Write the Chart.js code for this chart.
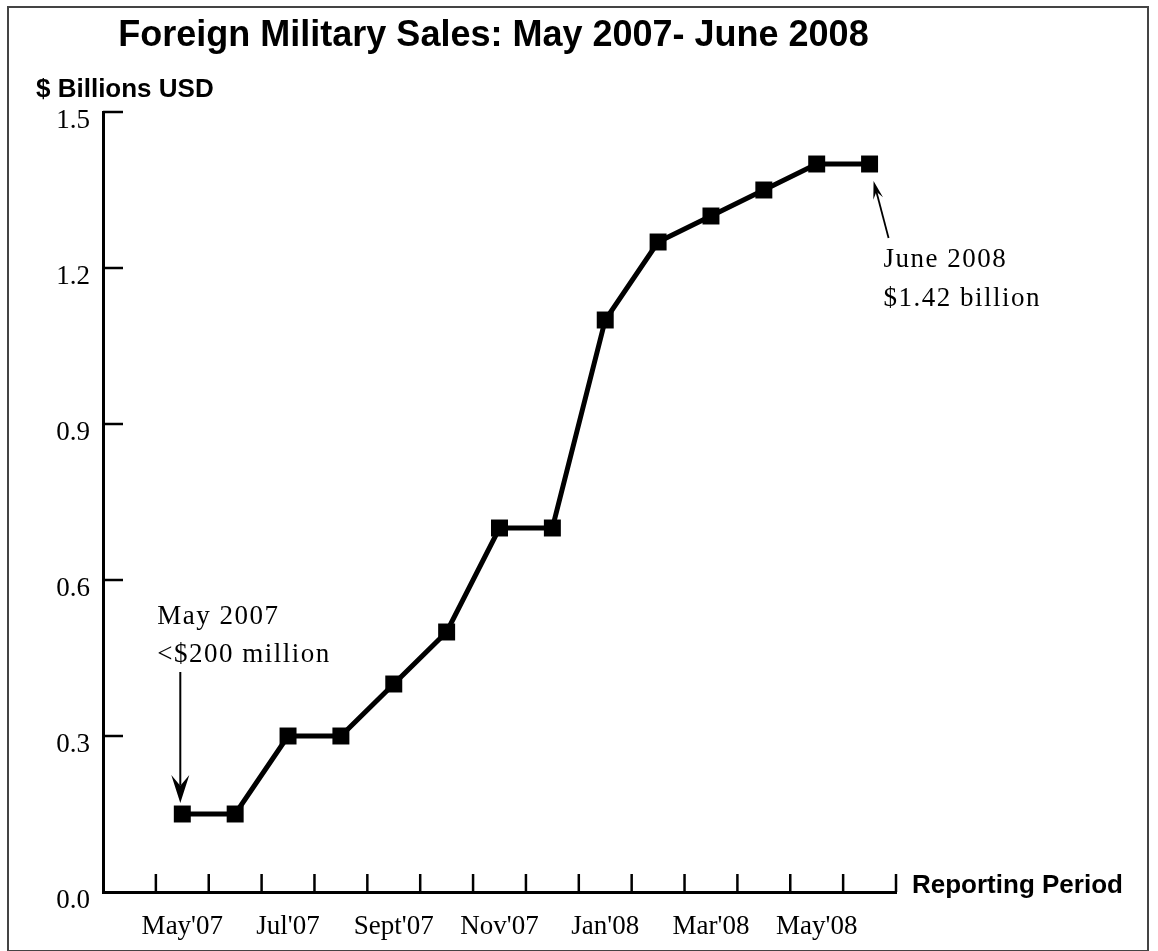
<!DOCTYPE html>
<html>
<head>
<meta charset="utf-8">
<script src="https://cdn.jsdelivr.net/npm/chart.js@4.4.0/dist/chart.umd.min.js"></script>
<style>
  html, body { margin: 0; padding: 0; background: #fff; }
  #chart { display: block; }
</style>
</head>
<body>
<canvas id="chart" width="1158" height="951"></canvas>
<script>
// monthly reporting periods, May 2007 - June 2008
const periods = ["May'07", "Jun'07", "Jul'07", "Aug'07", "Sept'07", "Oct'07", "Nov'07",
  "Dec'07", "Jan'08", "Feb'08", "Mar'08", "Apr'08", "May'08", "Jun'08"];
// cumulative sales, $ billions
const sales = [0.15, 0.15, 0.3, 0.3, 0.4, 0.5, 0.7, 0.7, 1.1, 1.25, 1.3, 1.35, 1.4, 1.4];
const yTicks = [0.0, 0.3, 0.6, 0.9, 1.2, 1.5];

const serif = "'Liberation Serif', 'Times New Roman', serif";
const sans = "'Liberation Sans', Arial, sans-serif";

// first slot on the axis is left empty
const labels = [""].concat(periods);
const values = [null].concat(sales);

const arrow = (ctx, x1, y1, x2, y2, len, half) => {
  const a = Math.atan2(y2 - y1, x2 - x1);
  const bx = x2 - len * Math.cos(a), by = y2 - len * Math.sin(a);
  const nx = x2 - len * 0.62 * Math.cos(a), ny = y2 - len * 0.62 * Math.sin(a);
  ctx.beginPath();
  ctx.moveTo(x1, y1);
  ctx.lineTo(nx, ny);
  ctx.stroke();
  ctx.beginPath();
  ctx.moveTo(x2, y2);
  ctx.lineTo(bx + half * Math.sin(a), by - half * Math.cos(a));
  ctx.lineTo(nx, ny);
  ctx.lineTo(bx - half * Math.sin(a), by + half * Math.cos(a));
  ctx.closePath();
  ctx.fill();
};

const decorations = {
  id: "decorations",
  beforeDraw: (chart) => {
    const { ctx } = chart;
    ctx.save();
    ctx.fillStyle = "#fff";
    ctx.fillRect(0, 0, chart.width, chart.height);
    ctx.strokeStyle = "#444";
    ctx.lineWidth = 2;
    ctx.strokeRect(8, 7, 1140, 944);
    ctx.restore();
  },
  afterDraw: (chart) => {
    const { ctx, chartArea } = chart;
    const xs = chart.scales.x;
    const ys = chart.scales.y;
    ctx.save();
    ctx.strokeStyle = "#000";
    ctx.fillStyle = "#000";

    // inward tick marks
    ctx.lineWidth = 2.5;
    const half = (xs.getPixelForValue(1) - xs.getPixelForValue(0)) / 2;
    for (let k = 1; k <= labels.length; k++) {
      const x = xs.getPixelForValue(k - 1) + half;
      ctx.beginPath();
      ctx.moveTo(x, chartArea.bottom);
      ctx.lineTo(x, chartArea.bottom - 18);
      ctx.stroke();
    }
    yTicks.slice(1).forEach((v) => {
      const y = ys.getPixelForValue(v);
      ctx.beginPath();
      ctx.moveTo(chartArea.left, y);
      ctx.lineTo(chartArea.left + 20, y);
      ctx.stroke();
    });

    // titles
    ctx.textBaseline = "alphabetic";
    ctx.textAlign = "center";
    ctx.font = "bold 36px " + sans;
    ctx.fillText("Foreign Military Sales: May 2007- June 2008", (chartArea.left + chartArea.right) / 2 - 6, 46);
    ctx.textAlign = "left";
    ctx.font = "bold 26px " + sans;
    ctx.fillText("$ Billions USD", 36, 97);
    ctx.fillText("Reporting Period", 912, 893);

    // annotations
    ctx.font = "27px " + serif;
    ctx.letterSpacing = "1.5px";
    const p0x = xs.getPixelForValue(1);
    const p0y = ys.getPixelForValue(sales[0]);
    ctx.fillText("May 2007", p0x - 25, 624);
    ctx.fillText("<$200 million", p0x - 25, 662);
    ctx.lineWidth = 2;
    arrow(ctx, p0x - 2, 672, p0x - 2, p0y - 11, 28, 9);

    const pnx = xs.getPixelForValue(labels.length - 1);
    const pny = ys.getPixelForValue(sales[sales.length - 1]);
    ctx.fillText("June 2008", pnx + 14, 267);
    ctx.fillText("$1.42 billion", pnx + 14, 306);
    ctx.lineWidth = 1.8;
    arrow(ctx, pnx + 19, 238, pnx + 4, pny + 17, 18, 5);
    ctx.restore();
  },
};

new Chart(document.getElementById("chart"), {
  type: "line",
  data: {
    labels: labels,
    datasets: [
      {
        data: values,
        borderColor: "#000",
        borderWidth: 5,
        pointStyle: "rect",
        pointRadius: 12,
        pointHoverRadius: 12,
        pointBackgroundColor: "#000",
        pointBorderWidth: 0,
        tension: 0,
      },
    ],
  },
  options: {
    responsive: false,
    animation: false,
    devicePixelRatio: 1,
    layout: { padding: { left: 0, right: 262, top: 112, bottom: 0 } },
    plugins: {
      legend: { display: false },
      title: { display: false },
      tooltip: { enabled: false },
    },
    scales: {
      x: {
        type: "category",
        offset: true,
        grid: { display: false },
        border: { display: true, color: "#000", width: 3 },
        afterFit: (s) => { s.height = 59; },
        ticks: {
          autoSkip: false,
          maxRotation: 0,
          padding: 11,
          color: "#000",
          font: { family: serif, size: 27 },
          callback: (val, i) => (i % 2 === 1 ? labels[i] : ""),
        },
      },
      y: {
        min: 0,
        max: 1.5,
        afterBuildTicks: (s) => { s.ticks = yTicks.map((v) => ({ value: v })); },
        afterFit: (s) => { s.width = 103; },
        grid: { display: false, drawTicks: false },
        border: { display: true, color: "#000", width: 3 },
        ticks: {
          padding: 13,
          labelOffset: 9,
          color: "#000",
          font: { family: serif, size: 27 },
          callback: (v) => v.toFixed(1),
        },
      },
    },
  },
  plugins: [decorations],
});
</script>
</body>
</html>
